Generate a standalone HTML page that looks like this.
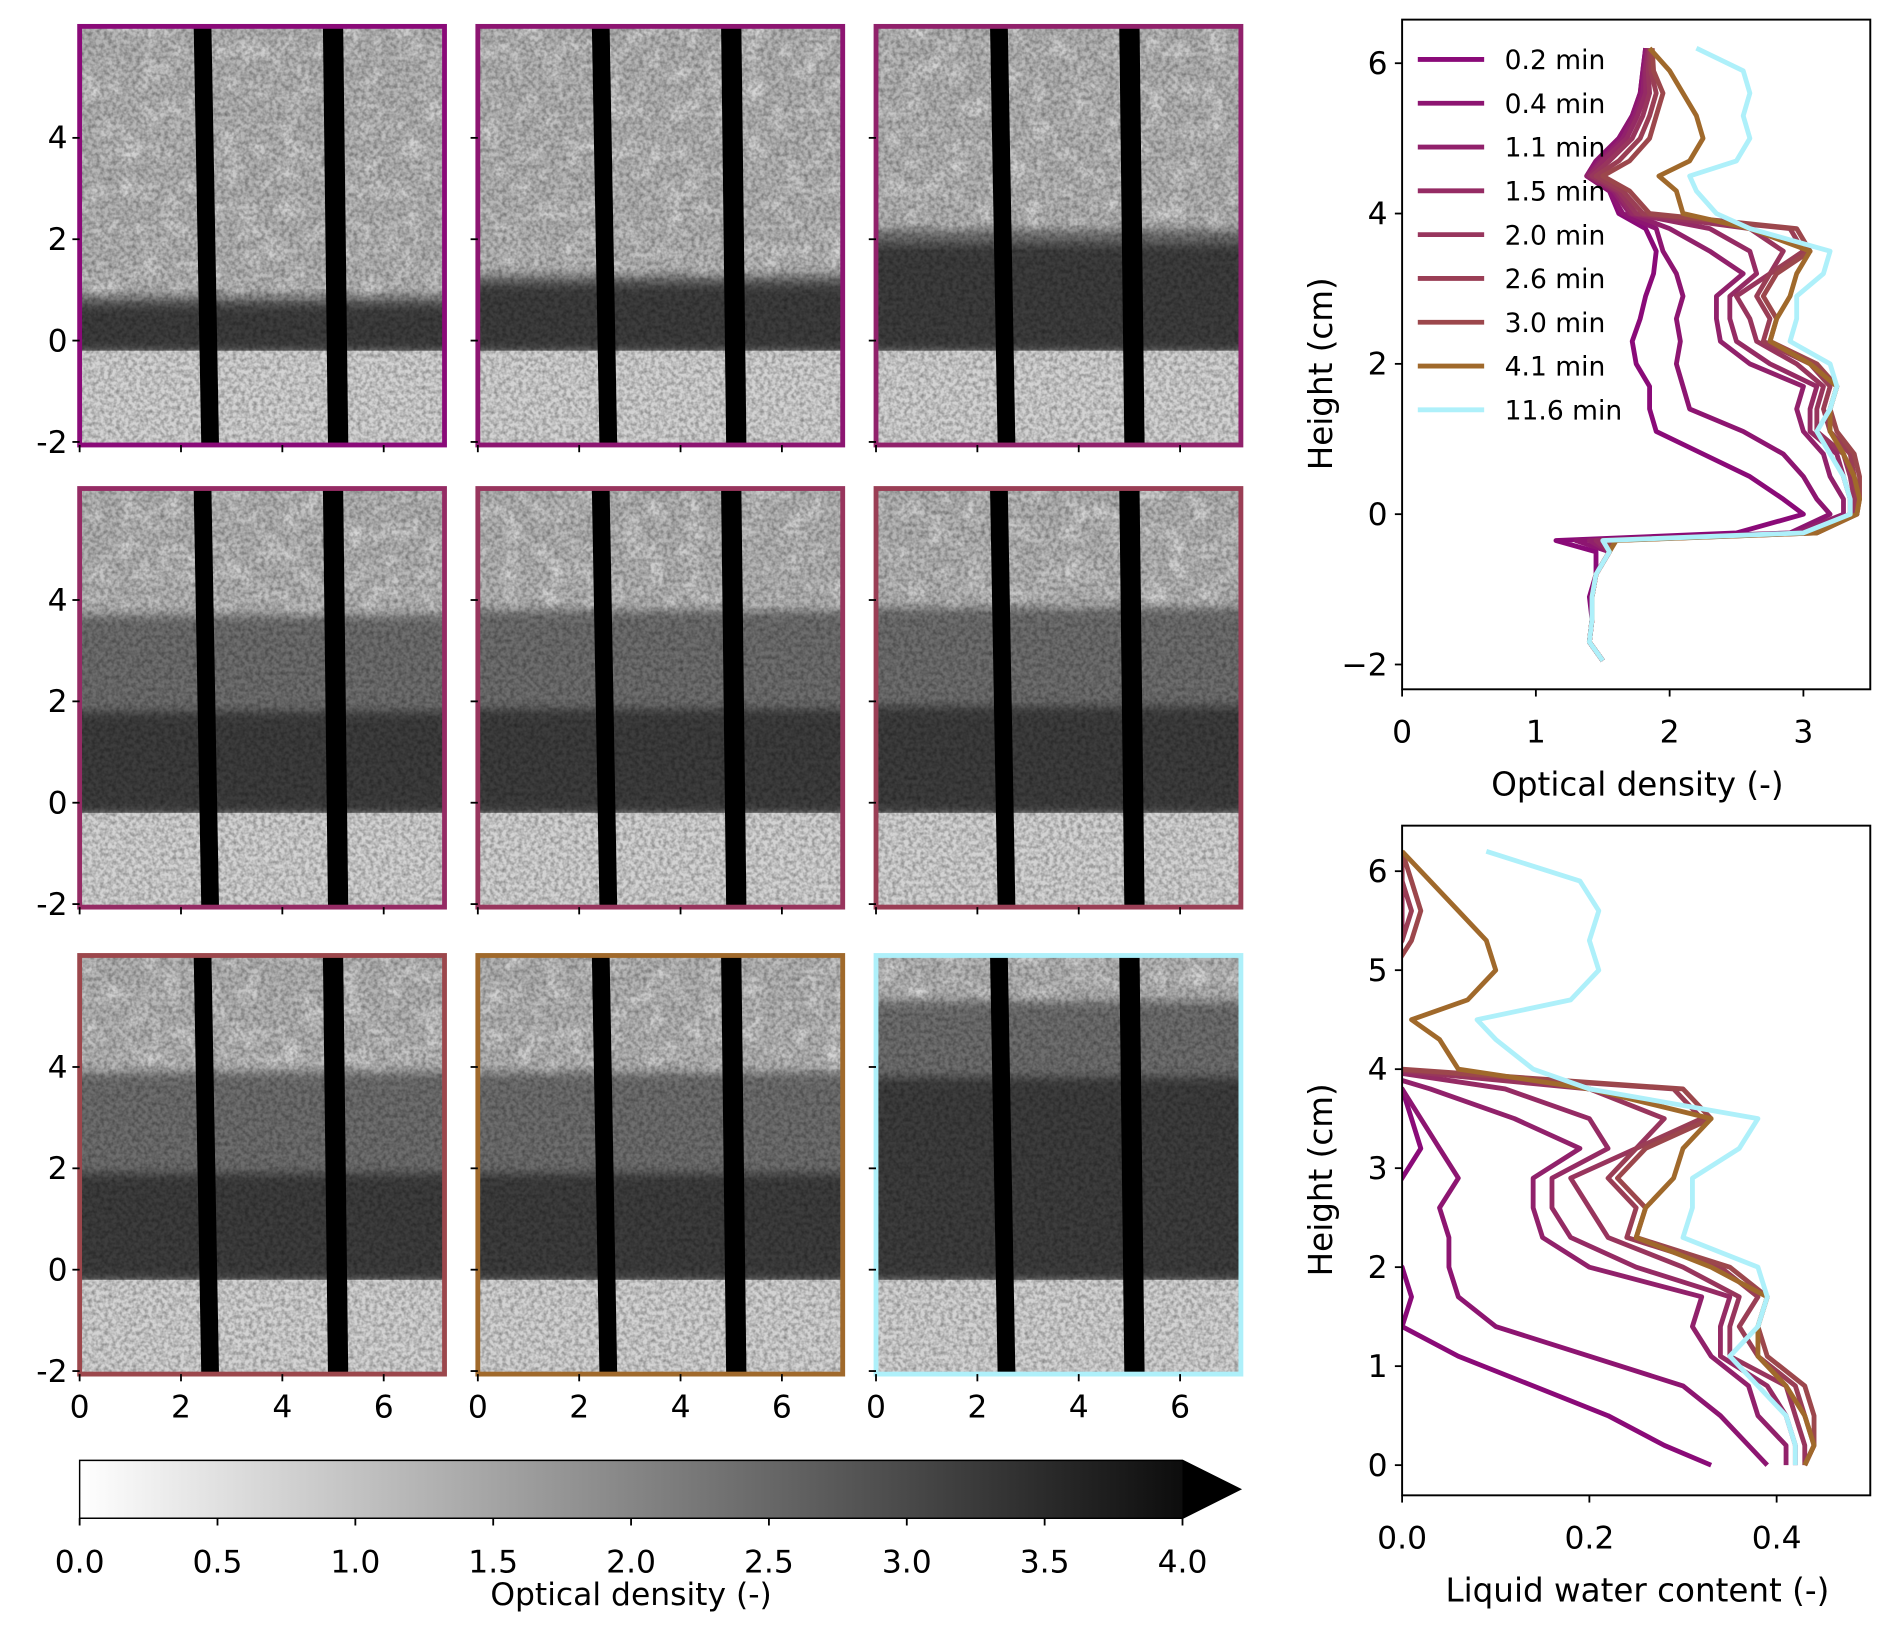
<!DOCTYPE html>
<html><head><meta charset="utf-8">
<style>
html,body{margin:0;padding:0;background:#fff;}
svg{display:block;}
text{font-family:"DejaVu Sans","Liberation Sans",sans-serif;fill:#000;}
</style></head>
<body>
<svg id="fig" xmlns="http://www.w3.org/2000/svg" width="1892" height="1632" viewBox="0 0 1568 1352">
<defs>
<filter id="noise" x="0" y="0" width="100%" height="100%">
<feTurbulence type="fractalNoise" baseFrequency="0.3" numOctaves="2" seed="3"/>
<feColorMatrix type="matrix" values="0 0 0 0 0  0 0 0 0 0  0 0 0 0 0  0 0 0 1.6 -0.55"/>
</filter>
<filter id="noise2" x="0" y="0" width="100%" height="100%">
<feTurbulence type="fractalNoise" baseFrequency="0.06" numOctaves="2" seed="7"/>
<feColorMatrix type="matrix" values="0 0 0 0 1  0 0 0 0 1  0 0 0 0 1  0 0 0 2.2 -1.0"/>
</filter>
<filter id="blur"><feGaussianBlur stdDeviation="4"/></filter>
<linearGradient id="cbar" x1="0" x2="1" y1="0" y2="0"><stop offset="0" stop-color="#fff"/><stop offset="1" stop-color="#000"/></linearGradient>
<clipPath id="clipTop"><rect x="1162" y="16" width="388" height="555"/></clipPath>
<clipPath id="clipBot"><rect x="1162" y="684" width="388" height="555"/></clipPath>
</defs>
<g id="panels"></g>
<g id="cb"></g>
<g id="od"></g>
<g id="lwc"></g>
</svg>
<script>
const timeLabels=["0.2 min","0.4 min","1.1 min","1.5 min","2.0 min","2.6 min","3.0 min","4.1 min","11.6 min"];
const seriesColors=["#8a0a78","#8d1571","#91216b","#952b64","#98355d","#9a3e55","#9c474c","#a0692b","#aef0fa"];
const heights=[6.2,5.9,5.6,5.3,5.0,4.7,4.5,4.3,4.0,3.8,3.5,3.2,2.9,2.6,2.3,2.0,1.7,1.4,1.1,0.8,0.5,0.2,0.0,-0.25,-0.35,-0.5,-0.8,-1.1,-1.4,-1.7,-1.95];
const od02=[1.82,1.8,1.78,1.72,1.62,1.45,1.38,1.55,1.62,1.82,1.9,1.88,1.82,1.78,1.72,1.75,1.85,1.85,1.9,2.25,2.6,2.85,3.0,2.5,1.15,1.45,1.45,1.4,1.42,1.4,1.5];
const od04=[1.82,1.8,1.78,1.72,1.62,1.45,1.38,1.55,1.65,1.9,1.95,2.05,2.1,2.05,2.08,2.05,2.1,2.15,2.55,2.85,3.0,3.1,3.2,2.9,1.3,1.55,1.45,1.42,1.42,1.4,1.5];
const od11=[1.83,1.81,1.8,1.74,1.65,1.48,1.38,1.58,1.7,2.0,2.3,2.55,2.35,2.35,2.38,2.6,3.0,2.95,3.0,3.15,3.2,3.3,3.3,2.95,1.4,1.55,1.45,1.42,1.42,1.4,1.5];
const od15=[1.84,1.82,1.82,1.76,1.68,1.5,1.4,1.6,1.72,2.3,2.6,2.65,2.45,2.45,2.5,2.75,3.1,3.05,3.05,3.25,3.3,3.35,3.35,3.0,1.45,1.55,1.45,1.42,1.42,1.4,1.5];
const od20=[1.85,1.84,1.85,1.8,1.72,1.55,1.42,1.62,1.75,2.6,2.85,2.75,2.5,2.6,2.65,2.95,3.15,3.1,3.1,3.3,3.35,3.38,3.38,3.05,1.5,1.55,1.45,1.42,1.42,1.4,1.5];
const od26=[1.86,1.86,1.9,1.85,1.78,1.62,1.45,1.65,1.8,2.9,3.0,2.75,2.65,2.75,2.7,3.05,3.2,3.15,3.2,3.35,3.38,3.4,3.4,3.05,1.55,1.55,1.45,1.42,1.42,1.4,1.5];
const od30=[1.87,1.88,1.95,1.9,1.85,1.7,1.5,1.7,1.85,2.95,3.05,2.8,2.7,2.8,2.75,3.1,3.25,3.2,3.25,3.38,3.42,3.42,3.4,3.1,1.55,1.55,1.45,1.42,1.42,1.4,1.5];
const od41=[1.85,2.0,2.1,2.2,2.25,2.15,1.92,2.05,2.1,2.6,3.05,2.95,2.9,2.8,2.75,3.05,3.25,3.2,3.2,3.3,3.38,3.42,3.4,3.1,1.6,1.55,1.45,1.42,1.42,1.4,1.5];
const od116=[2.2,2.55,2.6,2.55,2.6,2.5,2.15,2.2,2.35,2.6,3.2,3.15,2.95,2.95,2.9,3.2,3.25,3.2,3.1,3.2,3.3,3.35,3.35,3.0,1.5,1.55,1.45,1.42,1.42,1.4,1.5];
const lwc02=[-0.01,-0.01,-0.01,-0.03,-0.06,-0.1,-0.12,-0.08,-0.06,0.0,0.01,0.02,0.0,-0.02,-0.03,0.0,0.01,0.0,0.06,0.14,0.22,0.28,0.33];
const lwc04=[-0.01,-0.01,-0.01,-0.03,-0.06,-0.1,-0.12,-0.08,-0.05,0.0,0.02,0.04,0.06,0.04,0.05,0.05,0.06,0.1,0.2,0.3,0.34,0.37,0.39];
const lwc11=[0,0,-0.01,-0.02,-0.05,-0.09,-0.12,-0.07,-0.04,0.03,0.12,0.19,0.14,0.14,0.15,0.2,0.32,0.31,0.33,0.37,0.38,0.41,0.41];
const lwc15=[0,0,0,-0.01,-0.04,-0.09,-0.11,-0.06,-0.03,0.11,0.2,0.22,0.16,0.16,0.18,0.25,0.35,0.34,0.34,0.39,0.41,0.42,0.42];
const lwc20=[0,0,0,0,-0.03,-0.08,-0.11,-0.05,-0.02,0.2,0.28,0.25,0.18,0.2,0.22,0.3,0.36,0.35,0.35,0.41,0.42,0.43,0.43];
const lwc26=[0,0,0.01,0,-0.02,-0.06,-0.1,-0.04,-0.01,0.29,0.32,0.25,0.22,0.25,0.24,0.34,0.38,0.36,0.38,0.42,0.43,0.44,0.43];
const lwc30=[0,0.01,0.02,0.01,-0.01,-0.04,-0.09,-0.03,0,0.3,0.33,0.26,0.23,0.26,0.25,0.35,0.39,0.38,0.39,0.43,0.44,0.44,0.43];
const lwc41=[0,0.03,0.06,0.09,0.1,0.07,0.01,0.04,0.06,0.2,0.33,0.3,0.29,0.26,0.25,0.33,0.39,0.38,0.38,0.41,0.43,0.44,0.43];
const lwc116=[0.09,0.19,0.21,0.2,0.21,0.18,0.08,0.1,0.14,0.2,0.38,0.36,0.31,0.31,0.3,0.38,0.39,0.38,0.35,0.38,0.41,0.42,0.42];
const odSeries=[od02,od04,od11,od15,od20,od26,od30,od41,od116];
const lwcSeries=[lwc02,lwc04,lwc11,lwc15,lwc20,lwc26,lwc30,lwc41,lwc116];
const darkTop=[0.7,1.1,1.9,1.8,1.85,1.9,1.9,1.9,3.8];
const medTop=[0.9,1.3,2.2,3.7,3.8,3.85,3.9,3.9,5.3];
const odTicks=[0,1,2,3];
const heightTicksTop=[-2,0,2,4,6];
const lwcTicks=[0.0,0.2,0.4];
const heightTicksBot=[0,1,2,3,4,5,6];
const panelXTicks=[0,2,4,6];
const panelYTicks=[-2,0,2,4];
const cbTicks=["0.0","0.5","1.0","1.5","2.0","2.5","3.0","3.5","4.0"];

const NS="http://www.w3.org/2000/svg";
function mk(tag,attrs,parent){const e=document.createElementNS(NS,tag);for(const k in attrs)e.setAttribute(k,attrs[k]);parent.appendChild(e);return e;}
const defs=document.querySelector('defs');

const panels=document.getElementById('panels');
const colX=[66,396,726], rowY=[282,665,1052], PS=42;
for(let i=0;i<9;i++){
  const r=Math.floor(i/3), c=i%3;
  const x0=colX[c], y0=rowY[r];
  const px=v=>x0+v*PS, py=v=>y0-v*PS;
  const L=px(0), R=px(7.2), T=py(6.2), B=py(-2.06);
  const cp=mk('clipPath',{id:'pc'+i},defs);
  mk('rect',{x:L,y:T,width:R-L,height:B-T},cp);
  const g=mk('g',{},panels);
  
  
  const img=mk('g',{'clip-path':'url(#pc'+i+')'},g);
  mk('rect',{x:L,y:T,width:R-L,height:B-T,fill:'#b4b4b4'},img);
  mk('rect',{x:L,y:T,width:R-L,height:B-T,fill:'#fff',filter:'url(#noise2)',opacity:0.5},img);
  mk('rect',{x:L-10,y:py(medTop[i]),width:R-L+20,height:py(-0.2)-py(medTop[i]),fill:'#6e6e6e',filter:'url(#blur)'},img);
  mk('rect',{x:L-10,y:py(darkTop[i]),width:R-L+20,height:py(-0.2)-py(darkTop[i]),fill:'#3e3e3e',filter:'url(#blur)'},img);
  mk('rect',{x:L,y:py(-0.2),width:R-L,height:B-py(-0.2),fill:'#d3d3d3'},img);
  mk('rect',{x:L,y:T,width:R-L,height:B-T,fill:'#fff',filter:'url(#noise)',opacity:0.4},img);
  const b1=mk('polygon',{points:`${px(2.25)},${T} ${px(2.6)},${T} ${px(2.75)},${B} ${px(2.4)},${B}`,fill:'#000'},img);
  
  const b2=mk('polygon',{points:`${px(4.8)},${T} ${px(5.2)},${T} ${px(5.3)},${B} ${px(4.9)},${B}`,fill:'#000'},img);
  
  const fr=mk('rect',{x:L,y:T,width:R-L,height:B-T,fill:'none',stroke:seriesColors[i],'stroke-width':4},g);
  
  panelYTicks.forEach(t=>{
    mk('line',{x1:L-6,x2:L,y1:py(t),y2:py(t),stroke:'#000','stroke-width':1.5},g);
    if(c===0){const tx=mk('text',{x:L-10,y:py(t)+9,'font-size':26,'text-anchor':'end'},g);tx.textContent=String(t);
      }
  });
  panelXTicks.forEach(t=>{
    mk('line',{x1:px(t),x2:px(t),y1:B,y2:B+6,stroke:'#000','stroke-width':1.5},g);
    if(r===2){const tx=mk('text',{x:px(t),y:B+36,'font-size':26,'text-anchor':'middle'},g);tx.textContent=String(t);
      }
  });
}

const cb=document.getElementById('cb');
mk('polygon',{points:'66,1210 980,1210 1028,1234 980,1258 66,1258',fill:'url(#cbar)',stroke:'#000','stroke-width':1.2},cb);
mk('polygon',{points:'980,1210 1028,1234 980,1258',fill:'#000'},cb);
cbTicks.forEach((t,k)=>{
  const x=66+k*(914/8);
  mk('line',{x1:x,x2:x,y1:1258,y2:1264,stroke:'#000','stroke-width':1.5},cb);
  const tx=mk('text',{x:x,y:1303,'font-size':26,'text-anchor':'middle'},cb);tx.textContent=t;
  
});
const cbt=mk('text',{x:523,y:1330,'font-size':26,'text-anchor':'middle'},cb);cbt.textContent='Optical density (-)';


function plot(gid,top,xmin,xmax,ymin,ymax,xt,yt,xfmt,xlabel,series,n,clip,legend){
  const g=document.getElementById(gid);
  const L=1162,R=1550,T=top,B=top+555;
  const sx=v=>L+(v-xmin)/(xmax-xmin)*(R-L), sy=v=>B-(v-ymin)/(ymax-ymin)*(B-T);
  const lines=mk('g',{'clip-path':clip},g);
  series.forEach((s,k)=>{
    let d='';for(let j=0;j<n;j++)d+=(j?'L':'M')+sx(s[j]).toFixed(1)+','+sy(heights[j]).toFixed(1);
    const p=mk('path',{d:d,fill:'none',stroke:seriesColors[k],'stroke-width':4,'stroke-linejoin':'round'},lines);
    
    
  });
  mk('rect',{x:L,y:T,width:R-L,height:B-T,fill:'none',stroke:'#000','stroke-width':1.6},g);
  xt.forEach(t=>{mk('line',{x1:sx(t),x2:sx(t),y1:B,y2:B+6,stroke:'#000','stroke-width':1.5},g);
    const tx=mk('text',{x:sx(t),y:B+44,'font-size':26,'text-anchor':'middle'},g);tx.textContent=xfmt(t);
    });
  yt.forEach(t=>{mk('line',{x1:L-6,x2:L,y1:sy(t),y2:sy(t),stroke:'#000','stroke-width':1.5},g);
    const tx=mk('text',{x:L-12,y:sy(t)+9,'font-size':26,'text-anchor':'end'},g);tx.textContent=(t<0?'\u2212'+(-t):String(t));
    });
  const xl=mk('text',{x:1357,y:B+88,'font-size':27,'text-anchor':'middle'},g);xl.textContent=xlabel;
  
  const yc=(T+B)/2+16;
  const yl=mk('text',{x:1104,y:yc,'font-size':27,'text-anchor':'middle',transform:`rotate(-90 1104 ${yc})`},g);yl.textContent='Height (cm)';
  
  if(legend){
    const lg=mk('g',{},g);
    timeLabels.forEach((t,k)=>{
      const y=49+k*36.3;
      const e=mk('g',{},lg);
      mk('line',{x1:1175,x2:1230,y1:y,y2:y,stroke:seriesColors[k],'stroke-width':4},e);
      const tx=mk('text',{x:1247,y:y+8,'font-size':22},e);tx.textContent=t;
    });
  }
}
plot('od',16,0,3.5,-2.33,6.58,odTicks,heightTicksTop,t=>String(t),'Optical density (-)',odSeries,31,'url(#clipTop)',true);
plot('lwc',684,0,0.5,-0.305,6.46,lwcTicks,heightTicksBot,t=>t.toFixed(1),'Liquid water content (-)',lwcSeries,23,'url(#clipBot)',false);
</script>
</body></html>
